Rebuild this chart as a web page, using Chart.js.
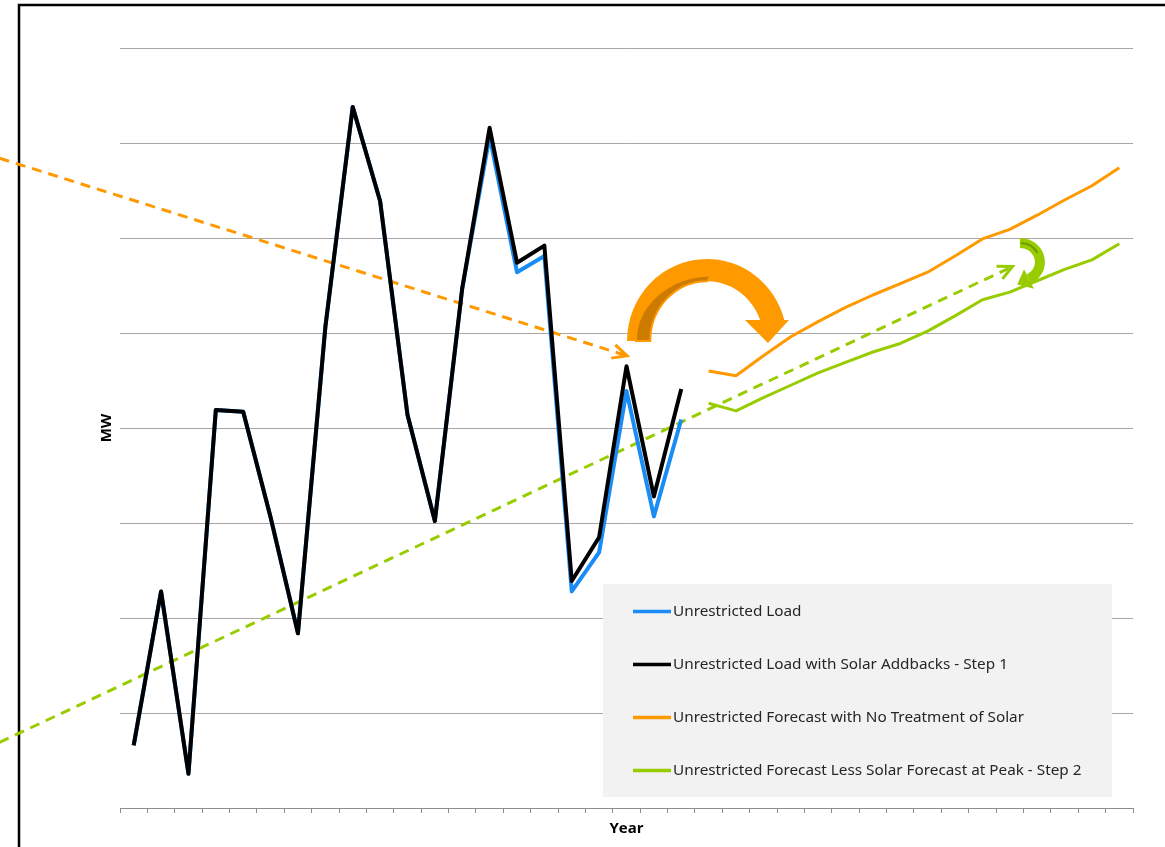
<!DOCTYPE html>
<html>
<head>
<meta charset="utf-8">
<script src="https://cdn.jsdelivr.net/npm/chart.js@4.4.0/dist/chart.umd.min.js"></script>
<style>
html, body { margin: 0; padding: 0; background: #fff; }
</style>
</head>
<body>
<canvas id="myChart" width="1165" height="847"></canvas>
<script>
// years on the x axis (labels are not shown in the picture)
const years = [
  '2003','2004','2005','2006','2007','2008','2009','2010','2011','2012',
  '2013','2014','2015','2016','2017','2018','2019','2020','2021','2022',
  '2023','2024','2025','2026','2027','2028','2029','2030','2031','2032',
  '2033','2034','2035','2036','2037','2038','2039'
]

// history (index 0..20)
const unrestrictedLoad = [66,228,36,419,417,306,184,506,738,639,414,302,547,707,564,581,228,269,439,307,409,
  null,null,null,null,null,null,null,null,null,null,null,null,null,null,null,null]
const loadWithAddbacks = [66,228,36,419,417,306,184,506,738,639,414,302,547,716,574,592,239,285,465,328,441,
  null,null,null,null,null,null,null,null,null,null,null,null,null,null,null,null]

// forecast (index 21..36)
const forecastNoSolar = [null,null,null,null,null,null,null,null,null,null,null,null,null,null,null,null,null,null,null,null,null,
  460,455,476,496,512,527,540,552,564,581,599,609,624,640,655,674]
const forecastLessSolar = [null,null,null,null,null,null,null,null,null,null,null,null,null,null,null,null,null,null,null,null,null,
  426,418,432,445,458,469,480,489,502,518,535,543,555,567,577,594]

// dashed trend arrows (x in category index units)
const trendOrange = [{x:-4.9, y:684}, {x:18.02, y:476}]
const trendGreen = [{x:-4.9, y:69}, {x:32.1, y:570}]

const BLUE = '#1a8cf5'
const ORANGE = '#ff9900'
const GREEN = '#99cc00'

var graph;

// black frame round the picture
const framePlugin = {
  id: 'frame',
  beforeDraw(chart) {
    const ctx = chart.ctx
    ctx.save()
    ctx.strokeStyle = '#000'
    ctx.lineWidth = 2.5
    ctx.beginPath()
    ctx.moveTo(19, chart.height)
    ctx.lineTo(19, 5)
    ctx.lineTo(chart.width, 5)
    ctx.stroke()
    ctx.restore()
  }
}

function arrowHead(ctx, p0, p1, color) {
  const a = Math.atan2(p1.y - p0.y, p1.x - p0.x)
  const len = 16, spread = 0.45
  ctx.save()
  ctx.strokeStyle = color
  ctx.lineWidth = 3
  ctx.beginPath()
  ctx.moveTo(p1.x - len * Math.cos(a - spread), p1.y - len * Math.sin(a - spread))
  ctx.lineTo(p1.x, p1.y)
  ctx.lineTo(p1.x - len * Math.cos(a + spread), p1.y - len * Math.sin(a + spread))
  ctx.stroke()
  ctx.restore()
}

// curved arrows + arrow heads of the dashed trends
const arrowPlugin = {
  id: 'arrows',
  afterDatasetsDraw(chart) {
    const ctx = chart.ctx
    const xa = chart.scales.xa, y = chart.scales.y
    const cw = xa.getPixelForValue(1) - xa.getPixelForValue(0)
    const gs = y.getPixelForValue(0) - y.getPixelForValue(100)

    // heads on the dashed lines
    const toPx = p => ({x: xa.getPixelForValue(p.x), y: y.getPixelForValue(p.y)})
    arrowHead(ctx, toPx(trendOrange[0]), toPx(trendOrange[1]), ORANGE)
    arrowHead(ctx, toPx(trendGreen[0]), toPx(trendGreen[1]), GREEN)

    // big orange curved arrow
    let cx = xa.getPixelForValue(20.94), cy = y.getPixelForValue(491.6)
    let ox = 2.92 * cw, oy = 0.863 * gs, ix = ox * 0.71, iy = oy * 0.73
    ctx.save()
    ctx.fillStyle = ORANGE
    ctx.beginPath()
    ctx.ellipse(cx, cy, ox, oy, 0, Math.PI, 2 * Math.PI - 0.259, false)
    ctx.ellipse(cx, cy, ix, iy, 0, 2 * Math.PI - 0.357, Math.PI, true)
    ctx.closePath()
    ctx.fill()
    // darker inside
    ctx.fillStyle = '#cc7a00'
    ctx.beginPath()
    ctx.ellipse(cx + ox * 0.06, cy, ox * 0.95, oy * 0.8, 0, Math.PI, Math.PI * 1.5, false)
    ctx.ellipse(cx, cy, ix, iy, 0, Math.PI * 1.5, Math.PI, true)
    ctx.closePath()
    ctx.fill()
    ctx.strokeStyle = ORANGE
    ctx.lineWidth = 2
    ctx.stroke()
    // head
    ctx.fillStyle = ORANGE
    ctx.beginPath()
    ctx.moveTo(cx + ox * 0.475, cy - oy * 0.256)
    ctx.lineTo(cx + ox * 1.025, cy - oy * 0.256)
    ctx.lineTo(cx + ox * 0.7625, cy + oy * 0.024)
    ctx.closePath()
    ctx.fill()
    ctx.restore()

    // small green curved arrow
    cx = xa.getPixelForValue(32.37); cy = y.getPixelForValue(574.7)
    ox = 0.913 * cw; oy = 0.253 * gs; ix = ox * 0.6; iy = oy * 0.58
    const a1 = 1.1
    ctx.save()
    ctx.fillStyle = GREEN
    ctx.beginPath()
    ctx.ellipse(cx, cy, ox, oy, 0, -Math.PI / 2, a1, false)
    ctx.ellipse(cx, cy, ix, iy, 0, a1, -Math.PI / 2, true)
    ctx.closePath()
    ctx.fill()
    const mr = (ox + ix) / 2, mry = (oy + iy) / 2
    const mx = cx + mr * Math.cos(a1), my = cy + mry * Math.sin(a1)
    let tx = -Math.sin(a1) * mr, ty = Math.cos(a1) * mry
    const tl = Math.hypot(tx, ty); tx /= tl; ty /= tl
    const rx = Math.cos(a1), ry = Math.sin(a1)
    ctx.beginPath()
    ctx.moveTo(mx + rx * 11, my + ry * 11)
    ctx.lineTo(mx - rx * 11, my - ry * 11)
    ctx.lineTo(mx + tx * 13, my + ty * 13)
    ctx.closePath()
    ctx.fill()
    ctx.strokeStyle = '#6f9a00'
    ctx.lineWidth = 2
    ctx.beginPath()
    ctx.ellipse(cx, cy, mr, mry, 0, -Math.PI / 2 + 0.05, -0.5, false)
    ctx.stroke()
    ctx.restore()
  }
}

// legend box inside the chart
const legendPlugin = {
  id: 'boxLegend',
  afterDraw(chart) {
    const ctx = chart.ctx
    const ca = chart.chartArea
    const bx = ca.left + 483, by = ca.top + 536, bw = 509, bh = 213
    ctx.save()
    ctx.fillStyle = '#f2f2f2'
    ctx.fillRect(bx, by, bw, bh)
    const items = chart.data.datasets.filter(d => !d.isTrend)
    items.forEach((d, i) => {
      const yy = by + 27.5 + i * 53
      ctx.strokeStyle = d.borderColor
      ctx.lineWidth = 3.5
      ctx.beginPath()
      ctx.moveTo(bx + 30, yy)
      ctx.lineTo(bx + 68, yy)
      ctx.stroke()
      ctx.fillStyle = '#262626'
      ctx.font = '15.3px "Noto Sans"'
      ctx.textBaseline = 'middle'
      ctx.fillText(d.label, bx + 70, yy)
    })
    ctx.restore()
  }
}

const data = {
  labels: years,
  datasets: [
    {label: 'Unrestricted Load', data: unrestrictedLoad, borderColor: BLUE, borderWidth: 4, order: 2},
    {label: 'Unrestricted Load with Solar Addbacks - Step 1', data: loadWithAddbacks, borderColor: '#000', borderWidth: 4, order: 1},
    {label: 'Unrestricted Forecast with No Treatment of Solar', data: forecastNoSolar, borderColor: ORANGE, borderWidth: 3, order: 3},
    {label: 'Unrestricted Forecast Less Solar Forecast at Peak - Step 2', data: forecastLessSolar, borderColor: GREEN, borderWidth: 3, order: 4},
    {label: 'trend1', isTrend: true, data: trendOrange, xAxisID: 'xa', borderColor: ORANGE, borderWidth: 3, borderDash: [10, 7], clip: false, order: 5},
    {label: 'trend2', isTrend: true, data: trendGreen, xAxisID: 'xa', borderColor: GREEN, borderWidth: 3, borderDash: [10, 7], clip: false, order: 6}
  ]
}

const config = {
  type: 'line',
  data: data,
  options: {
    responsive: false,
    animation: false,
    devicePixelRatio: 1,
    spanGaps: false,
    layout: {padding: {left: 94, right: 32, top: 48, bottom: 5}},
    elements: {
      point: {radius: 0},
      line: {tension: 0, fill: false, borderJoinStyle: 'round'}
    },
    plugins: {legend: {display: false}, tooltip: {enabled: false}},
    scales: {
      x: {
        offset: true,
        grid: {offset: true, drawOnChartArea: false, drawTicks: true, tickLength: 5, color: '#8c8c8c'},
        border: {display: true, color: '#8c8c8c', width: 1},
        ticks: {display: false},
        title: {display: true, text: 'Year', color: '#000', font: {family: '"Open Sans"', size: 15, weight: 'bold'}, padding: {top: 7, bottom: 4}}
      },
      xa: {type: 'linear', display: false, min: -0.5, max: 36.5},
      y: {
        min: 0, max: 800,
        ticks: {display: false, stepSize: 100},
        grid: {drawTicks: false, color: '#a6a6a6'},
        border: {display: false},
        title: {display: true, text: 'MW', color: '#000', font: {family: '"Open Sans"', size: 15, weight: 'bold'}, padding: {top: 4, bottom: 4}}
      }
    }
  },
  plugins: [framePlugin, arrowPlugin, legendPlugin]
}

graph = new Chart(document.getElementById('myChart'), config)
</script>
</body>
</html>
